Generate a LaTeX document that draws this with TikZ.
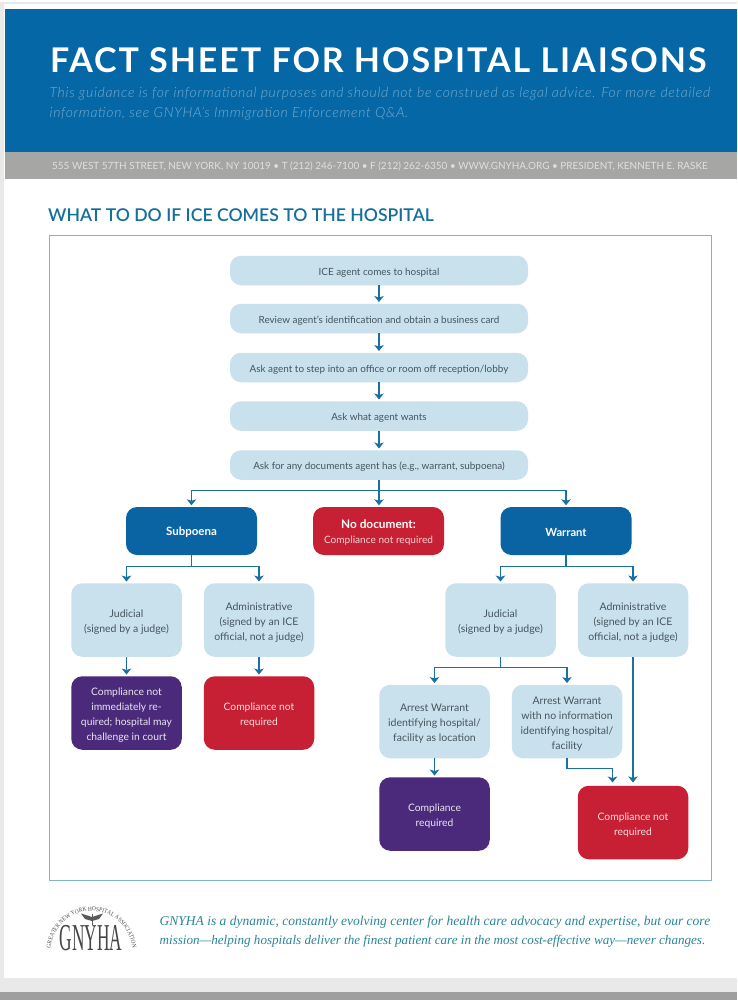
\documentclass[tikz,border=0pt]{standalone}
\usepackage{fontspec}
\setmainfont{Lato}
\newfontfamily\serifit[ItalicFont={Liberation Serif Italic}]{Liberation Serif}
\newfontfamily\logofont[FakeStretch=0.88]{Liberation Serif}
\newfontfamily\titlefont[LetterSpace=5.7]{Lato Bold}
\newfontfamily\headfont{Lato Semibold}
\newfontfamily\subfont[LetterSpace=4.8]{Lato Light Italic}
\usetikzlibrary{arrows.meta,decorations.text}
\definecolor{hdrblue}{HTML}{0567A6}
\definecolor{barblue}{HTML}{0A64A3}
\definecolor{paleblue}{HTML}{C9E1EC}
\definecolor{alertred}{HTML}{C72034}
\definecolor{deeppurple}{HTML}{4B2A7C}
\definecolor{bargray}{HTML}{A6A7A5}
\definecolor{linkblue}{HTML}{1A709E}
\definecolor{headteal}{HTML}{14709B}
\definecolor{framecol}{HTML}{7FB5C8}
\definecolor{inktext}{HTML}{46555E}
\definecolor{footteal}{HTML}{2A8598}
\definecolor{edgegray}{HTML}{E9E9E9}
\tikzset{
  x=1pt,y=-1pt,
  box/.style={rounded corners=11pt,align=center,inner sep=0pt,font=\fontsize{10.3}{15}\selectfont,execute at begin node={\rule{0pt}{11.5pt}}},
  tallfirst/.style={execute at begin node={\rule{0pt}{#1}}},
  twolines/.style={tallfirst=27.5pt},
  threelines/.style={tallfirst=42.5pt},
  fourlines/.style={tallfirst=57.5pt},
  stepbox/.style={box,fill=paleblue,text=inktext,minimum width=298pt,minimum height=29.5pt,font=\fontsize{9.9}{15}\selectfont},
  leafbox/.style={box,fill=paleblue,text=inktext,minimum width=110.5pt,minimum height=73.5pt,font=\fontsize{10.5}{15}\selectfont},
  redbox/.style={box,fill=alertred,text=white!85!alertred,minimum width=110.5pt,minimum height=73.5pt},
  purplebox/.style={box,fill=deeppurple,text=white!88!deeppurple,minimum width=110.5pt,minimum height=73.5pt},
  bigbox/.style={box,minimum width=131pt,minimum height=48pt,text=white},
  link/.style={draw=linkblue,line width=1.9pt,-{Stealth[length=6pt,width=9.5pt,inset=1.5pt]},shorten >=1.5pt},
  bus/.style={draw=linkblue,line width=1.9pt},
}
\begin{document}
\begin{tikzpicture}
\useasboundingbox (0,0) rectangle (737,1000);
\fill[edgegray] (0,0) rectangle (737,1000);
\fill[white] (0,0) rectangle (737,2);
\fill[white] (4,4) rectangle (737,978);
\fill[gray!75] (0,992) rectangle (737,1000);
\fill[hdrblue] (5,9) rectangle (737,152);
\fill[bargray] (5,152) rectangle (737,179);
\node[anchor=base west,inner sep=0pt,text=white,font=\titlefont\fontsize{34}{34}\selectfont] (title) at (50,72.5) {FACT SHEET FOR HOSPITAL LIAISONS};
\node[anchor=base west,inner sep=0pt,text=white!45!hdrblue,font=\subfont\fontsize{14}{14}\selectfont] (sub1) at (49.5,97.5) {This guidance is for informational purposes and should not be construed as legal advice. For more detailed};
\node[anchor=base west,inner sep=0pt,text=white!45!hdrblue,font=\subfont\fontsize{14}{14}\selectfont] (sub2) at (49.5,117.5) {information, see GNYHA’s Immigration Enforcement Q\&A.};
\node[anchor=base west,inner sep=0pt,text=white!65!bargray,font=\fontsize{9.93}{10}\selectfont] (addr) at (52,170) {555 WEST 57TH STREET, NEW YORK, NY 10019 • T (212) 246-7100 • F (212) 262-6350 • WWW.GNYHA.ORG • PRESIDENT, KENNETH E. RASKE};
\node[anchor=base west,inner sep=0pt,text=headteal,font=\headfont\fontsize{17.6}{18}\selectfont] (head) at (48,221.5) {WHAT TO DO IF ICE COMES TO THE HOSPITAL};
\draw[framecol,line width=1pt] (49.5,235.5) rectangle (711,880);

\node[stepbox] (s1) at (379,270.5) {ICE agent comes to hospital};
\node[stepbox] (s2) at (379,318.5) {Review agent’s identification and obtain a business card};
\node[stepbox] (s3) at (379,367.5) {Ask agent to step into an office or room off reception/lobby};
\node[stepbox] (s4) at (379,416) {Ask what agent wants};
\node[stepbox] (s5) at (379,465) {Ask for any documents agent has (e.g., warrant, subpoena)};

\node[bigbox,fill=barblue,font=\fontsize{11.5}{15}\selectfont\bfseries] (subp) at (191.5,531) {Subpoena};
\node[bigbox,twolines,fill=alertred,font=\fontsize{10.1}{15}\selectfont] (nodoc) at (378.5,531) {{\bfseries\fontsize{11.8}{15}\selectfont No document:}\\{\color{white!80!alertred}Compliance not required}};
\node[bigbox,fill=barblue,font=\fontsize{11.2}{15}\selectfont\bfseries] (warr) at (566,531) {Warrant};

\node[leafbox,twolines] (sj) at (126.5,620) {Judicial\\(signed by a judge)};
\node[leafbox,threelines] (sa) at (259,620) {Administrative\\(signed by an ICE\\official, not a judge)};
\node[purplebox,fourlines] (sp) at (126.5,713) {Compliance not\\immediately re-\\quired; hospital may\\challenge in court};
\node[redbox,twolines] (sr) at (259,713) {Compliance not\\required};

\node[leafbox,twolines] (wj) at (500.5,620) {Judicial\\(signed by a judge)};
\node[leafbox,threelines] (wa) at (633,620) {Administrative\\(signed by an ICE\\official, not a judge)};
\node[leafbox,threelines] (a1) at (434.5,721.5) {Arrest Warrant\\identifying hospital/\\facility as location};
\node[leafbox,fourlines] (a2) at (567,721.5) {Arrest Warrant\\with no information\\identifying hospital/\\facility};
\node[purplebox,twolines] (wp) at (434.5,814) {Compliance\\required};
\node[redbox,twolines] (wr) at (633,822.5) {Compliance not\\required};

\foreach \a/\b in {s1/s2,s2/s3,s3/s4,s4/s5,sj/sp,sa/sr,a1/wp}
  \draw[link] (\a.south) -- (\b.north);

\coordinate (b1) at (379,490.5);
\draw[link] (s5.south) -- (nodoc.north-|s5.south);
\draw[link] (b1) -| (subp.north);
\draw[link] (b1) -| (warr.north);

\coordinate (b2) at (191.5,566.5);
\draw[bus] (subp.south) -- (b2);
\draw[link] (b2) -| (sj.north);
\draw[link] (b2) -| (sa.north);

\coordinate (b3) at (566,566.5);
\draw[bus] (warr.south) -- (b3);
\draw[link] (b3) -| (wj.north);
\draw[link] (b3) -| (wa.north);

\coordinate (b4) at (500.5,667.5);
\draw[bus] (wj.south) -- (b4);
\draw[link] (b4) -| (a1.north);
\draw[link] (b4) -| (a2.north);

\coordinate (w1) at (612.5,784);
\draw[link] (a2.south) |- (612.5,768.5) -- (w1);
\coordinate (w2) at (633,784);
\draw[link] (wa.south) -- (w2);

% logo
\path[decorate,decoration={text along path,text align=center,text={|\fontsize{6.2}{6.2}\selectfont\color{black!70}\logofont|GREATER NEW YORK HOSPITAL ASSOCIATION}}]
  (50.5,952) arc[start angle=180,end angle=360,radius=41];
\node[inner sep=0pt,text=black!72,font=\serifit\fontsize{38}{38}\selectfont,xscale=0.455,anchor=base] (logo) at (91,950.5) {GNYHA};
\draw[black!65,line width=0.8pt] (92,914) -- (92,925);
\fill[black!65] (92,917) -- (81,913.5) -- (85,919) -- (92,921) -- (99,919) -- (103,913.5) -- cycle;

\node[anchor=base west,inner sep=0pt,text=footteal,font=\serifit\fontsize{13.5}{13.5}\selectfont\itshape] (f1) at (159.5,925) {GNYHA is a dynamic, constantly evolving center for health care advocacy and expertise, but our core};
\node[anchor=base west,inner sep=0pt,text=footteal,font=\serifit\fontsize{13.1}{13.1}\selectfont\itshape] (f2) at (159.5,944) {mission—helping hospitals deliver the finest patient care in the most cost-effective way—never changes.};
\end{tikzpicture}
\end{document}
